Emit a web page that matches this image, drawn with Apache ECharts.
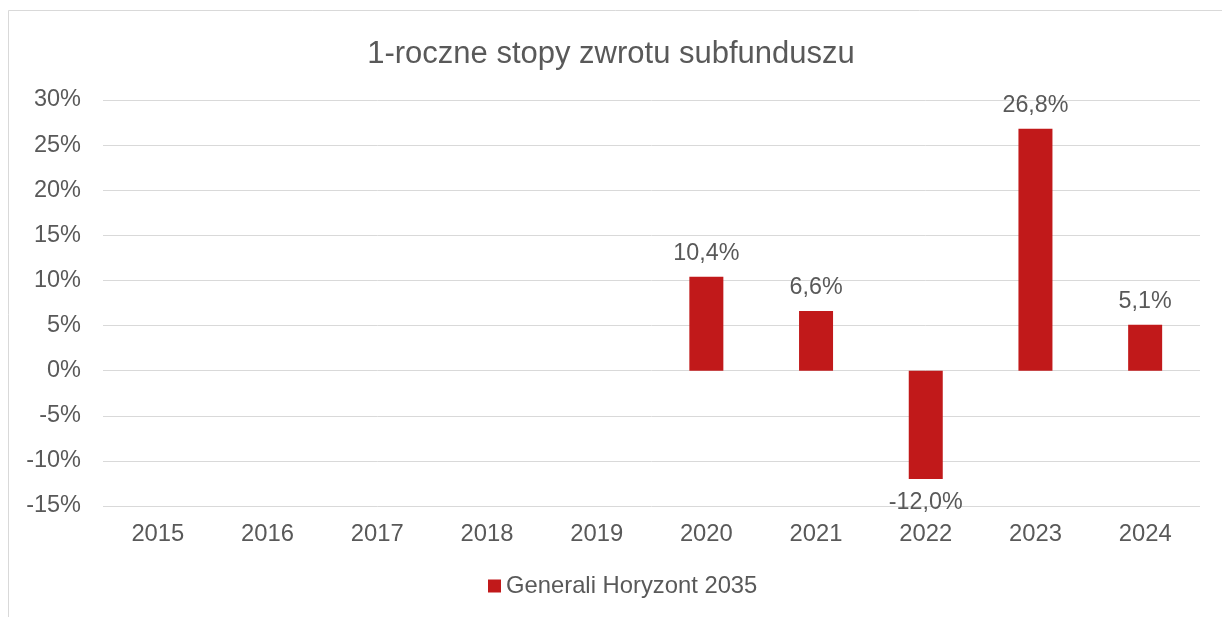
<!DOCTYPE html>
<html>
<head>
<meta charset="utf-8">
<script src="https://cdn.jsdelivr.net/npm/echarts@6/dist/echarts.min.js"></script>
<style>
html,body{margin:0;padding:0;background:#fff;}
#chart{width:1222px;height:617px;}
</style>
</head>
<body>
<div id="chart"></div>
<script>
const titleText = '1-roczne stopy zwrotu subfunduszu';
const categories = ['2015','2016','2017','2018','2019','2020','2021','2022','2023','2024'];
const seriesName = 'Generali Horyzont 2035';
const values = [null, null, null, null, null, 10.4, 6.6, -12.0, 26.8, 5.1];
const yTicks = [-15, -10, -5, 0, 5, 10, 15, 20, 25, 30];

const font = '"Liberation Sans", Arial, sans-serif';
const textColor = '#595959';
const seriesData = values.map(v => (v != null && v < 0) ? { value: v, label: { position: 'bottom' } } : v);

const chart = echarts.init(document.getElementById('chart'));
chart.setOption({
  animation: false,
  backgroundColor: '#ffffff',
  graphic: [{
    type: 'rect',
    shape: { x: 8.5, y: 10.5, width: 1400, height: 800 },
    style: { fill: 'none', stroke: '#d9d9d9', lineWidth: 1 },
    silent: true
  }],
  title: {
    text: titleText,
    left: 'center',
    top: 34,
    textStyle: { fontFamily: font, fontSize: 31, fontWeight: 'normal', color: textColor }
  },
  legend: {
    bottom: 14,
    left: 483,
    itemWidth: 13,
    itemHeight: 13,
    itemGap: 10,
    icon: 'rect',
    textStyle: { fontFamily: font, fontSize: 23.8, color: textColor, padding: [0,0,0,0] },
    data: [seriesName]
  },
  grid: { left: 103, right: 22, top: 100, bottom: 111, containLabel: false },
  xAxis: {
    type: 'category',
    data: categories,
    axisLine: { show: false },
    axisTick: { show: false },
    axisLabel: { fontFamily: font, fontSize: 23.8, color: textColor, margin: 16 },
    splitLine: { show: false }
  },
  yAxis: {
    type: 'value',
    min: yTicks[0],
    max: yTicks[yTicks.length - 1],
    interval: 5,
    axisLine: { show: false },
    axisTick: { show: false },
    axisLabel: { fontFamily: font, fontSize: 23.5, color: textColor, margin: 22, formatter: v => v + '%' },
    splitLine: { lineStyle: { color: '#d9d9d9', width: 1 } }
  },
  series: [{
    name: seriesName,
    type: 'bar',
    data: seriesData,
    barWidth: 34,
    itemStyle: { color: '#C1191A' },
    label: {
      show: true,
      position: 'top',
      distance: 12,
      fontFamily: font,
      fontSize: 23.3,
      color: textColor,
      formatter: p => p.value == null ? '' : p.value.toFixed(1).replace('.', ',') + '%'
    }
  }]
});
</script>
</body>
</html>
